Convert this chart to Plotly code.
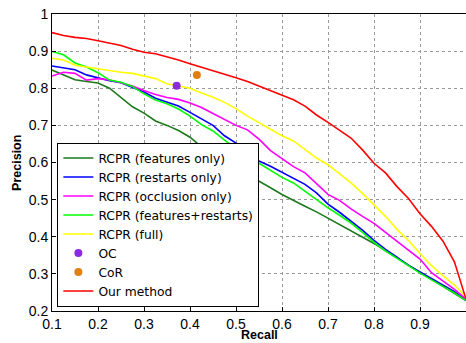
import plotly.graph_objects as go

recall = [0.1, 0.125, 0.15, 0.175, 0.2, 0.225, 0.25, 0.275, 0.3, 0.325, 0.35, 0.375,
          0.4, 0.425, 0.45, 0.475, 0.5, 0.525, 0.55, 0.575, 0.6, 0.625, 0.65, 0.675,
          0.7, 0.725, 0.75, 0.775, 0.8, 0.825, 0.85, 0.875, 0.9, 0.925, 0.95, 0.975, 1.0]

rcpr_features = [0.849, 0.836, 0.823, 0.818, 0.814, 0.800, 0.775, 0.750, 0.733, 0.712, 0.700, 0.686,
                 0.668, 0.642, 0.622, 0.600, 0.585, 0.568, 0.550, 0.532, 0.514, 0.497, 0.482, 0.467,
                 0.450, 0.434, 0.418, 0.400, 0.382, 0.362, 0.343, 0.322, 0.304, 0.285, 0.265, 0.248, 0.228]
rcpr_restarts = [0.860, 0.855, 0.850, 0.836, 0.827, 0.820, 0.815, 0.803, 0.790, 0.773, 0.762, 0.752,
                 0.735, 0.717, 0.700, 0.672, 0.652, 0.622, 0.604, 0.590, 0.574, 0.558, 0.541, 0.518,
                 0.488, 0.466, 0.443, 0.418, 0.390, 0.366, 0.345, 0.323, 0.305, 0.287, 0.270, 0.252, 0.228]
rcpr_occlusion = [0.833, 0.843, 0.840, 0.822, 0.826, 0.822, 0.815, 0.806, 0.794, 0.783, 0.775, 0.770,
                  0.760, 0.748, 0.732, 0.717, 0.700, 0.688, 0.663, 0.632, 0.610, 0.589, 0.572, 0.543,
                  0.514, 0.498, 0.475, 0.455, 0.436, 0.412, 0.388, 0.362, 0.340, 0.303, 0.280, 0.258, 0.232]
rcpr_feat_restarts = [0.899, 0.890, 0.868, 0.857, 0.842, 0.822, 0.816, 0.805, 0.785, 0.768, 0.758, 0.744,
                      0.725, 0.702, 0.685, 0.660, 0.638, 0.615, 0.598, 0.580, 0.560, 0.545, 0.522, 0.500,
                      0.478, 0.458, 0.437, 0.412, 0.385, 0.362, 0.342, 0.320, 0.302, 0.284, 0.266, 0.249, 0.228]
rcpr_full = [0.881, 0.876, 0.862, 0.857, 0.852, 0.848, 0.843, 0.840, 0.834, 0.826, 0.812, 0.805,
             0.800, 0.787, 0.776, 0.762, 0.745, 0.725, 0.708, 0.690, 0.672, 0.658, 0.634, 0.612,
             0.594, 0.570, 0.545, 0.517, 0.487, 0.455, 0.420, 0.390, 0.355, 0.322, 0.295, 0.270, 0.238]
our_method = [0.950, 0.942, 0.937, 0.934, 0.928, 0.922, 0.915, 0.905, 0.897, 0.893, 0.885, 0.876,
              0.866, 0.857, 0.848, 0.839, 0.828, 0.818, 0.806, 0.793, 0.781, 0.769, 0.752, 0.728,
              0.708, 0.688, 0.666, 0.634, 0.598, 0.572, 0.535, 0.503, 0.462, 0.428, 0.388, 0.332, 0.232]

oc_point = (0.371, 0.807)
cor_point = (0.415, 0.836)

x_ticks = [0.1, 0.2, 0.3, 0.4, 0.5, 0.6, 0.7, 0.8, 0.9]
x_tick_labels = ["0.1", "0.2", "0.3", "0.4", "0.5", "0.6", "0.7", "0.8", "0.9"]
y_ticks = [0.2, 0.3, 0.4, 0.5, 0.6, 0.7, 0.8, 0.9, 1.0]
y_tick_labels = ["0.2", "0.3", "0.4", "0.5", "0.6", "0.7", "0.8", "0.9", "1"]

fig = go.Figure()
lines = [
    ("RCPR (features only)", rcpr_features, "#1c7a1c"),
    ("RCPR (restarts only)", rcpr_restarts, "#0000ff"),
    ("RCPR (occlusion only)", rcpr_occlusion, "#ff00ff"),
    ("RCPR (features+restarts)", rcpr_feat_restarts, "#00ff00"),
    ("RCPR (full)", rcpr_full, "#ffff00"),
]
for name, vals, col in lines:
    fig.add_trace(go.Scatter(x=recall, y=vals, mode="lines", name=name,
                             line=dict(color=col, width=1.6)))
fig.add_trace(go.Scatter(x=[oc_point[0]], y=[oc_point[1]], mode="markers", name="OC",
                         marker=dict(color="#8a2be2", size=8)))
fig.add_trace(go.Scatter(x=[cor_point[0]], y=[cor_point[1]], mode="markers", name="CoR",
                         marker=dict(color="#e07f12", size=8)))
fig.add_trace(go.Scatter(x=recall, y=our_method, mode="lines", name="Our method",
                         line=dict(color="#ff0000", width=1.6)))

axis_common = dict(showline=True, linecolor="black", linewidth=1, mirror=True,
                   ticks="inside", ticklen=4, tickcolor="black", automargin=False,
                   ticklabeloverflow="allow",
                   showgrid=True, gridcolor="#9a9a9a", griddash="dot", gridwidth=1,
                   zeroline=False, tickfont=dict(size=14, color="black"))
fig.update_xaxes(range=[0.1, 1.0], tickvals=x_ticks, ticktext=x_tick_labels, **axis_common)
fig.update_yaxes(range=[0.2, 1.0], tickvals=y_ticks, ticktext=y_tick_labels, **axis_common)

fig.update_layout(
    width=466, height=343,
    margin=dict(l=52, r=0, t=14, b=32),
    paper_bgcolor="white", plot_bgcolor="white",
    font=dict(family="Liberation Sans, Arial, sans-serif", color="black"),
    legend=dict(x=0.013, y=0.015, xanchor="left", yanchor="bottom",
                bgcolor="white", bordercolor="black", borderwidth=1,
                font=dict(size=12.3, family="DejaVu Sans"), itemwidth=30, tracegroupgap=0),
    annotations=[
        dict(text="<b>Recall</b>", xref="paper", yref="paper", x=0.5, y=-0.082,
             xanchor="center", yanchor="middle", showarrow=False,
             font=dict(size=12.5, color="black")),
        dict(text="<b>Precision</b>", xref="paper", yref="paper", x=-0.086, y=0.5,
             xanchor="center", yanchor="middle", showarrow=False, textangle=-90,
             font=dict(size=12.5, color="black")),
    ],
)

# remove the default 8px page margin so the figure fills the window exactly
fig.write_html("out.html", config={"displayModeBar": False},
               post_script="document.body.style.margin='0px';")
